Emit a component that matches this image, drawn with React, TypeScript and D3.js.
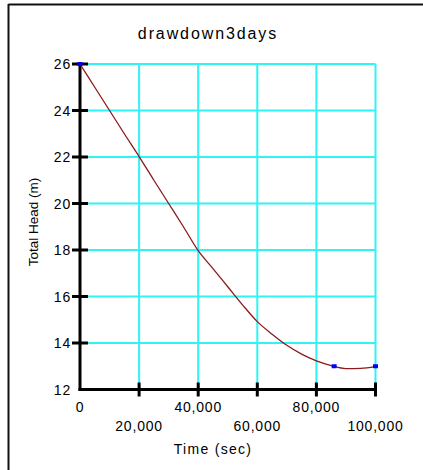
import React from 'react';
import * as d3 from 'd3';

const timeSec = [0, 5000, 10000, 15000, 20000, 25000, 30000, 35000, 40000, 45000, 50000, 55000, 60000, 65000, 70000, 75000, 80000, 85000, 90000, 95000, 100000];
const headM = [26.0, 25.0, 24.0, 23.0, 22.02, 21.0, 20.0, 19.0, 17.97, 17.2, 16.42, 15.64, 14.92, 14.38, 13.9, 13.52, 13.23, 13.03, 12.9, 12.91, 12.98];

const obsTime = [0, 86000, 100000];
const obsHead = [26.0, 13.0, 13.0];

const yTicks = [14, 16, 18, 20, 22, 24, 26];
const yLabels = [12, 14, 16, 18, 20, 22, 24, 26];
const xTicks = [20000, 40000, 60000, 80000, 100000];
const xLabels = [0, 20000, 40000, 60000, 80000, 100000];

const title = 'drawdown3days';
const xTitle = 'Time (sec)';
const yTitle = 'Total Head (m)';

const W = 423;
const H = 470;
const font = 'Liberation Sans, Arial, sans-serif';

const App: React.FC = () => {
    const x = d3.scaleLinear().domain([0, 100000]).range([80, 375.5]);
    const y = d3.scaleLinear().domain([12, 26]).range([389.5, 64]);

    const line = d3
        .line<number>()
        .x((_, i) => x(timeSec[i]))
        .y((d) => y(d))
        .curve(d3.curveMonotoneX);

    const fmt = d3.format(',');

    return (
        <svg width={W} height={H} style={{ position: 'absolute', left: 0, top: 0, background: '#fff' }}>
            {/* outer frame (cropped) */}
            <line x1={8.5} x2={W} y1={4.5} y2={4.5} stroke="#111" strokeWidth={2} />
            <line x1={8.5} x2={8.5} y1={4} y2={H} stroke="#111" strokeWidth={2} />

            <text x={208} y={39} textAnchor="middle" fontFamily={font} fontSize={16} letterSpacing={1.9} fill="#000">
                {title}
            </text>

            {/* grid */}
            {yTicks.map((v) => (
                <line key={'gy' + v} x1={x(0)} x2={x(100000)} y1={y(v)} y2={y(v)} stroke="#2ef4f4" strokeWidth={2} />
            ))}
            {xTicks.map((v) => (
                <line key={'gx' + v} x1={x(v)} x2={x(v)} y1={y(26)} y2={y(12)} stroke="#2ef4f4" strokeWidth={2} />
            ))}

            {/* axes */}
            <line x1={x(0)} x2={x(0)} y1={y(26) - 1} y2={y(12) + 1.5} stroke="#000" strokeWidth={3} />
            <line x1={x(0) - 1.5} x2={x(100000) + 1} y1={y(12)} y2={y(12)} stroke="#000" strokeWidth={3} />
            {yTicks.map((v) => (
                <line key={'ty' + v} x1={x(0) - 8} x2={x(0) + 8} y1={y(v)} y2={y(v)} stroke="#000" strokeWidth={3} />
            ))}
            {xTicks.map((v) => (
                <line key={'tx' + v} x1={x(v)} x2={x(v)} y1={y(12) - 7} y2={y(12) + 7} stroke="#000" strokeWidth={3} />
            ))}

            {yLabels.map((v) => (
                <text key={'ly' + v} x={71} y={y(v) + 5} textAnchor="end" fontFamily={font} fontSize={14} letterSpacing={0.8} fill="#000">
                    {v}
                </text>
            ))}
            {xLabels.map((v, i) => (
                <text
                    key={'lx' + v}
                    x={x(v)}
                    y={i % 2 === 0 ? 411.5 : 430.5}
                    textAnchor="middle"
                    fontFamily={font}
                    fontSize={14}
                    letterSpacing={0.8}
                    fill="#000"
                >
                    {fmt(v)}
                </text>
            ))}

            <text x={213} y={454} textAnchor="middle" fontFamily={font} fontSize={14} letterSpacing={1.3} fill="#000">
                {xTitle}
            </text>
            <text
                transform={`translate(38,222) rotate(-90)`}
                textAnchor="middle"
                fontFamily={font}
                fontSize={13.5}
                fill="#000"
            >
                {yTitle}
            </text>

            {/* simulated head */}
            <path d={line(headM) || ''} fill="none" stroke="#8c1a1a" strokeWidth={1.3} />

            {/* observations */}
            {obsTime.map((t, i) => (
                <rect key={'o' + i} x={x(t) - 2.5} y={y(obsHead[i]) - 2} width={5} height={4} fill="#0000ff" />
            ))}
        </svg>
    );
};

export default App;
